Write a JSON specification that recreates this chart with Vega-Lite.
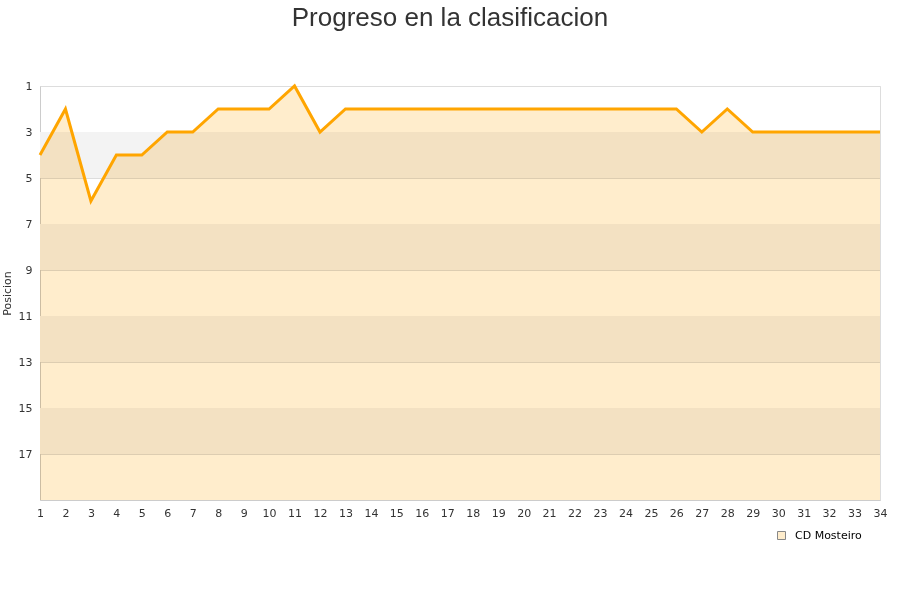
{
  "$schema": "https://vega.github.io/schema/vega-lite/v6.json",
  "autosize": "none",
  "width": 840,
  "height": 414,
  "padding": {"left": 40, "top": 86, "right": 20, "bottom": 100},
  "background": "white",
  "title": {"text": "Progreso en la clasificacion", "fontSize": 26, "font": "Liberation Sans", "fontWeight": "normal", "color": "#333333", "anchor": "middle", "offset": 49, "dx": -10},
  "config": {
    "view": {"stroke": "#dddddd"},
    "axis": {"labelFont": "DejaVu Sans", "labelFontSize": 11, "labelColor": "#333333", "titleFont": "DejaVu Sans", "titleFontSize": 11, "titleFontWeight": "normal", "titleColor": "#333333", "domainColor": "#cccccc", "ticks": false, "gridColor": "#dddddd", "labelOverlap": false, "labelFlush": false, "labelBound": false}
  },
  "data": {"values": [
    {"jornada": 1, "posicion": 4, "equipo": "CD Mosteiro"},
    {"jornada": 2, "posicion": 2, "equipo": "CD Mosteiro"},
    {"jornada": 3, "posicion": 6, "equipo": "CD Mosteiro"},
    {"jornada": 4, "posicion": 4, "equipo": "CD Mosteiro"},
    {"jornada": 5, "posicion": 4, "equipo": "CD Mosteiro"},
    {"jornada": 6, "posicion": 3, "equipo": "CD Mosteiro"},
    {"jornada": 7, "posicion": 3, "equipo": "CD Mosteiro"},
    {"jornada": 8, "posicion": 2, "equipo": "CD Mosteiro"},
    {"jornada": 9, "posicion": 2, "equipo": "CD Mosteiro"},
    {"jornada": 10, "posicion": 2, "equipo": "CD Mosteiro"},
    {"jornada": 11, "posicion": 1, "equipo": "CD Mosteiro"},
    {"jornada": 12, "posicion": 3, "equipo": "CD Mosteiro"},
    {"jornada": 13, "posicion": 2, "equipo": "CD Mosteiro"},
    {"jornada": 14, "posicion": 2, "equipo": "CD Mosteiro"},
    {"jornada": 15, "posicion": 2, "equipo": "CD Mosteiro"},
    {"jornada": 16, "posicion": 2, "equipo": "CD Mosteiro"},
    {"jornada": 17, "posicion": 2, "equipo": "CD Mosteiro"},
    {"jornada": 18, "posicion": 2, "equipo": "CD Mosteiro"},
    {"jornada": 19, "posicion": 2, "equipo": "CD Mosteiro"},
    {"jornada": 20, "posicion": 2, "equipo": "CD Mosteiro"},
    {"jornada": 21, "posicion": 2, "equipo": "CD Mosteiro"},
    {"jornada": 22, "posicion": 2, "equipo": "CD Mosteiro"},
    {"jornada": 23, "posicion": 2, "equipo": "CD Mosteiro"},
    {"jornada": 24, "posicion": 2, "equipo": "CD Mosteiro"},
    {"jornada": 25, "posicion": 2, "equipo": "CD Mosteiro"},
    {"jornada": 26, "posicion": 2, "equipo": "CD Mosteiro"},
    {"jornada": 27, "posicion": 3, "equipo": "CD Mosteiro"},
    {"jornada": 28, "posicion": 2, "equipo": "CD Mosteiro"},
    {"jornada": 29, "posicion": 3, "equipo": "CD Mosteiro"},
    {"jornada": 30, "posicion": 3, "equipo": "CD Mosteiro"},
    {"jornada": 31, "posicion": 3, "equipo": "CD Mosteiro"},
    {"jornada": 32, "posicion": 3, "equipo": "CD Mosteiro"},
    {"jornada": 33, "posicion": 3, "equipo": "CD Mosteiro"},
    {"jornada": 34, "posicion": 3, "equipo": "CD Mosteiro"}
  ]},
  "layer": [
    {
      "data": {"values": [
        {"desde": 3, "hasta": 5},
        {"desde": 7, "hasta": 9},
        {"desde": 11, "hasta": 13},
        {"desde": 15, "hasta": 17}
      ]},
      "mark": {"type": "rect", "color": "#f3f3f3"},
      "encoding": {
        "y": {"field": "desde", "type": "quantitative", "scale": {"domain": [1, 19], "reverse": true, "nice": false, "zero": false}, "axis": {"values": [1,3,5,7,9,11,13,15,17], "title": "Posicion", "grid": true, "labelPadding": 8, "titlePadding": 6}},
        "y2": {"field": "hasta"}
      }
    },
    {
      "mark": {"type": "area", "blend": "multiply"},
      "encoding": {
        "x": {"field": "jornada", "type": "quantitative", "scale": {"domain": [1, 34], "nice": false}, "axis": {"values": [1,2,3,4,5,6,7,8,9,10,11,12,13,14,15,16,17,18,19,20,21,22,23,24,25,26,27,28,29,30,31,32,33,34], "title": null, "grid": false, "labelAngle": 0, "labelPadding": 7}},
        "y": {"field": "posicion", "type": "quantitative", "axis": {"values": [1,3,5,7,9,11,13,15,17], "title": "Posicion", "grid": true, "labelPadding": 8, "titlePadding": 6}},
        "y2": {"datum": 19},
        "fill": {"field": "equipo", "type": "nominal", "scale": {"range": ["#ffedcc"]}, "legend": {"title": null, "orient": "none", "legendX": 736, "legendY": 444, "padding": 0, "symbolType": "square", "symbolSize": 64, "symbolStrokeColor": "#888888", "symbolStrokeWidth": 1, "symbolOpacity": 1, "labelFont": "DejaVu Sans", "labelFontSize": 11, "labelColor": "#000000", "labelOffset": 8}}
      }
    },
    {
      "mark": {"type": "line", "color": "#ffa500", "strokeWidth": 3},
      "encoding": {
        "x": {"field": "jornada", "type": "quantitative", "axis": {"values": [1,2,3,4,5,6,7,8,9,10,11,12,13,14,15,16,17,18,19,20,21,22,23,24,25,26,27,28,29,30,31,32,33,34], "title": null, "grid": false, "labelAngle": 0, "labelPadding": 7}},
        "y": {"field": "posicion", "type": "quantitative", "axis": {"values": [1,3,5,7,9,11,13,15,17], "title": "Posicion", "grid": true, "labelPadding": 8, "titlePadding": 6}}
      }
    }
  ]
}
